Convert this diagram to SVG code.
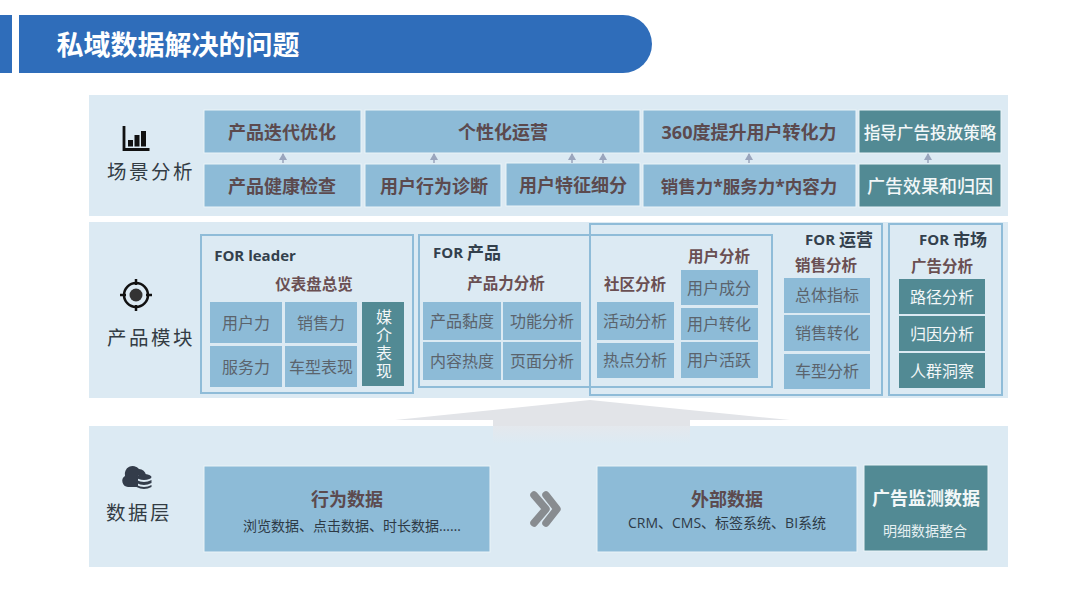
<svg xmlns="http://www.w3.org/2000/svg" width="1080" height="605" viewBox="0 0 1080 605">
<style>
text{font-family:"Open Sans","Noto Sans CJK SC",sans-serif;text-anchor:middle;dominant-baseline:central}
.panel{fill:#dceaf3}
.c{fill:#8dbbd7;stroke:#eaf3f8;stroke-width:1}
.t{fill:#528a94;stroke:#eaf3f8;stroke-width:1}
.n{fill:#8dbbd7}
.g{fill:#528a94}
.out{fill:none;stroke:#8fbcd8;stroke-width:2}
.h{font-size:18px;font-weight:700;fill:#5c4a4e}
.hw{font-size:18px;font-weight:500;fill:#f2f7f8}
.s{font-size:15.5px;font-weight:700;fill:#6a4f52}
.f{font-size:15px;font-weight:700;fill:#33404c}
.fc{font-size:17px}
.m{font-size:16px;fill:#5b636c}
.w{font-size:16px;fill:#f2f7f8}
.l{font-size:19.500px;fill:#333c44;letter-spacing:2.5px}
.d{font-size:14px;fill:#2d3a46}
.a{stroke:#9aa5bd;stroke-width:1.5;marker-end:url(#ah)}
</style>
<defs>
<marker id="ah" markerUnits="userSpaceOnUse" markerWidth="8" markerHeight="7" refX="4" refY="1" orient="0"><path d="M0 7L4 0L8 7Z" fill="#9aa5bd"/></marker>
<linearGradient id="fade" x1="0" y1="0" x2="0" y2="1"><stop offset="0" stop-color="#e4e8ed"/><stop offset="1" stop-color="#dceaf3"/></linearGradient>
</defs>
<rect width="1080" height="605" fill="#fff"/>
<g id="header">
<rect x="0" y="15" width="12" height="58" fill="#2f6dba"/>
<path d="M19 15H623A29 29 0 0 1 623 73H19Z" fill="#2f6dba"/>
<text x="178" y="44" style="font-size:27px;font-weight:700;fill:#fff">私域数据解决的问题</text>
</g>
<g id="panels">
<rect class="panel" x="89" y="95" width="919" height="121"/>
<rect class="panel" x="89" y="222" width="919" height="176"/>
<rect class="panel" x="89" y="426" width="919" height="141"/>
</g>
<g id="up-arrow">
<path d="M395 420L590 400L790 420H690V426H493V420Z" fill="#e2e4e8"/>
<rect x="493" y="426" width="197" height="18" fill="url(#fade)"/>
</g>
<g id="scene-label">
<path d="M124 126V149.500H149.500" fill="none" stroke="#111" stroke-width="2.800"/>
<rect x="128" y="140" width="5" height="6.500" fill="#111"/><rect x="134.500" y="135" width="5" height="11.500" fill="#111"/><rect x="141" y="131" width="5" height="15.500" fill="#111"/>
<text class="l" x="151" y="171">场景分析</text>
</g>
<g id="scene-nodes">
<g id="s1"><rect class="c" x="204" y="110" width="157" height="43"/><text class="h" x="282" y="132">产品迭代优化</text></g>
<g id="s2"><rect class="c" x="365" y="110" width="275" height="43"/><text class="h" x="503" y="132">个性化运营</text></g>
<g id="s3"><rect class="c" x="643" y="110" width="213" height="43"/><text class="h" x="749" y="132">360度提升用户转化力</text></g>
<g id="s4"><rect class="t" x="859" y="110" width="142" height="43"/><text class="hw" style="font-size:16.600px" x="930" y="132">指导广告投放策略</text></g>
<g id="s5"><rect class="c" x="204" y="164" width="157" height="43"/><text class="h" x="282" y="186">产品健康检查</text></g>
<g id="s6"><rect class="c" x="365" y="164" width="136" height="43"/><text class="h" x="434" y="186">用户行为诊断</text></g>
<g id="s7"><rect class="c" x="506" y="163" width="134" height="43"/><text class="h" x="573" y="185">用户特征细分</text></g>
<g id="s8"><rect class="c" x="643" y="164" width="213" height="43"/><text class="h" style="font-size:17.500px" x="749" y="186">销售力*服务力*内容力</text></g>
<g id="s9"><rect class="t" x="859" y="164" width="142" height="43"/><text class="hw" x="930" y="186">广告效果和归因</text></g>
</g>
<g id="connectors">
<line class="a" x1="283" y1="163" x2="283" y2="154"/>
<line class="a" x1="434" y1="163" x2="434" y2="154"/>
<line class="a" x1="572" y1="163" x2="572" y2="154"/>
<line class="a" x1="603" y1="163" x2="603" y2="154"/>
<line class="a" x1="749" y1="163" x2="749" y2="154"/>
<line class="a" x1="928" y1="163" x2="928" y2="154"/>
</g>
<g id="module-label">
<circle cx="136" cy="295" r="12" fill="none" stroke="#111" stroke-width="2.500"/>
<circle cx="136" cy="295" r="6.500" fill="#333"/>
<path d="M136 279V285M136 305V311M120 295H126M146 295H152" stroke="#111" stroke-width="2.500"/>
<text class="l" x="151" y="337">产品模块</text>
</g>
<g id="for-leader">
<rect class="out" x="201" y="235" width="212" height="158"/>
<text class="f" x="255" y="255">FOR leader</text>
<text class="s" x="314" y="284">仪表盘总览</text>
<g id="l1"><rect class="n" x="210" y="302" width="72" height="41"/><text class="m" x="246" y="323">用户力</text></g>
<g id="l2"><rect class="n" x="285" y="302" width="72" height="41"/><text class="m" x="321" y="323">销售力</text></g>
<g id="l3"><rect class="n" x="210" y="346" width="72" height="41"/><text class="m" x="246" y="367">服务力</text></g>
<g id="l4"><rect class="n" x="285" y="346" width="72" height="41"/><text class="m" x="321" y="367">车型表现</text></g>
<g id="l5"><rect class="g" x="362" y="302" width="42" height="84"/><text class="w" x="383" y="345" style="writing-mode:vertical-rl;letter-spacing:2.200px">媒介表现</text></g>
</g>
<g id="for-product">
<rect class="out" x="419" y="235" width="353" height="152"/>
<text class="f" x="467" y="252">FOR <tspan class="fc">产品</tspan></text>
<text class="s" x="506" y="283">产品力分析</text>
<g id="p1"><rect class="n" x="423" y="302" width="78" height="38"/><text class="m" x="462" y="321">产品黏度</text></g>
<g id="p2"><rect class="n" x="503" y="302" width="78" height="38"/><text class="m" x="542" y="321">功能分析</text></g>
<g id="p3"><rect class="n" x="423" y="342" width="78" height="38"/><text class="m" x="462" y="361">内容热度</text></g>
<g id="p4"><rect class="n" x="503" y="342" width="78" height="38"/><text class="m" x="542" y="361">页面分析</text></g>
<text class="s" x="635" y="284">社区分析</text>
<g id="c1"><rect class="n" x="597" y="302" width="77" height="38"/><text class="m" x="635" y="321">活动分析</text></g>
<g id="c2"><rect class="n" x="597" y="343" width="77" height="35"/><text class="m" x="635" y="360">热点分析</text></g>
<text class="s" x="719" y="256">用户分析</text>
<g id="u1"><rect class="n" x="681" y="270" width="77" height="35"/><text class="m" x="719" y="288">用户成分</text></g>
<g id="u2"><rect class="n" x="681" y="308" width="77" height="32"/><text class="m" x="719" y="324">用户转化</text></g>
<g id="u3"><rect class="n" x="681" y="342" width="77" height="36"/><text class="m" x="719" y="360">用户活跃</text></g>
</g>
<g id="for-ops">
<rect class="out" x="590" y="224" width="292" height="171"/>
<text class="f" x="839" y="239">FOR <tspan class="fc">运营</tspan></text>
<text class="s" x="826" y="265">销售分析</text>
<g id="o1"><rect class="n" x="784" y="278" width="86" height="35"/><text class="m" x="827" y="295">总体指标</text></g>
<g id="o2"><rect class="n" x="784" y="315" width="86" height="36"/><text class="m" x="827" y="333">销售转化</text></g>
<g id="o3"><rect class="n" x="784" y="354" width="86" height="35"/><text class="m" x="827" y="371">车型分析</text></g>
</g>
<g id="for-market">
<rect class="out" x="889" y="224" width="113" height="171"/>
<text class="f" x="953" y="239">FOR <tspan class="fc">市场</tspan></text>
<text class="s" x="942" y="266">广告分析</text>
<g id="m1"><rect class="g" x="899" y="279" width="86" height="35"/><text class="w" x="942" y="297">路径分析</text></g>
<g id="m2"><rect class="g" x="899" y="316" width="86" height="35"/><text class="w" x="942" y="334">归因分析</text></g>
<g id="m3"><rect class="g" x="899" y="353" width="86" height="35"/><text class="w" x="942" y="371">人群洞察</text></g>
</g>
<g id="data-label">
<path d="M128 487A6 6 0 0 1 125 476A8 8 0 0 1 139 469A7 7 0 0 1 146 475H138V487Z" fill="#333c4a"/>
<g fill="#333c4a"><ellipse cx="144" cy="477" rx="7.500" ry="3"/><path d="M136.500 480Q144 484 151.500 480V483Q144 487 136.500 483Z"/><path d="M136.500 485Q144 489 151.500 485V487Q144 491 136.500 487Z"/></g>
<text class="l" x="139" y="512">数据层</text>
</g>
<g id="data-behavior"><rect class="c" x="204" y="466" width="286" height="86"/><text class="h" x="347" y="499">行为数据</text><text class="d" x="352" y="525">浏览数据、点击数据、时长数据……</text></g>
<g id="chevrons"><path d="M534 495L546 509L534 523M546 495L557 509L546 523" fill="none" stroke="#888c90" stroke-width="7.500" stroke-linecap="round" stroke-linejoin="round"/></g>
<g id="data-external"><rect class="c" x="597" y="466" width="260" height="86"/><text class="h" x="727" y="499">外部数据</text><text class="d" x="727" y="522">CRM、CMS、标签系统、BI系统</text></g>
<g id="data-ads"><rect class="t" x="864" y="465" width="124" height="86"/><text class="hw" style="font-weight:700" x="926" y="498">广告监测数据</text><text class="d" style="fill:#e6f0f2" x="925" y="530">明细数据整合</text></g>
</svg>
